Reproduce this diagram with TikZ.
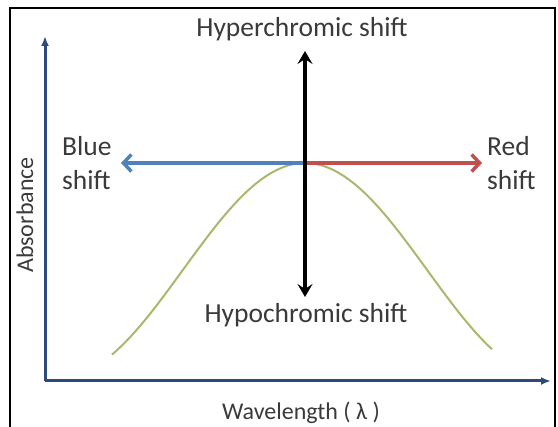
\documentclass[tikz,border=0pt]{standalone}
\usepackage{fontspec}
\setmainfont{Carlito}
\usetikzlibrary{arrows.meta}
\definecolor{axisnavy}{HTML}{2C4A7C}
\definecolor{blueshift}{HTML}{4F81BD}
\definecolor{redshift}{HTML}{C0504D}
\definecolor{curvegreen}{HTML}{A9B86C}
\definecolor{labelgray}{HTML}{3A3A3A}

\begin{document}
\begin{tikzpicture}[x=1pt, y=-1pt, every node/.style={font=\fontsize{27.5}{34}\selectfont, text=labelgray, inner sep=0pt},
	axislbl/.style={font=\fontsize{24}{28}\selectfont},
	axis/.style={draw=axisnavy, line width=3pt, -{Latex[length=10pt, width=8pt]}},
	shiftarr/.style={line width=3.5pt, -{Straight Barb[length=8pt, width=17pt]}},
	vert/.style={black, line width=3.5pt, -{Stealth[length=13pt, width=15pt, inset=5pt]}}]
	\useasboundingbox (0,0) rectangle (558,427);
	\draw[line width=1.5pt] (10,427) |- (555,8) -- (555,427);
	% axes
	\coordinate (o) at (45,381);
	\coordinate (ytop) at (45,36);
	\coordinate (xend) at (551,381);
	\draw[axis] (o) -- (ytop);
	\draw[axis] (o) -- (xend);
	\node[axislbl, rotate=90] (absorb) at (25,215) {Absorbance};
	\node[axislbl, anchor=base] (wave) at (301,420) {Wavelength ( λ )};
	% absorption band
	\draw[curvegreen, line width=2pt] plot[domain=112:492, samples=80, smooth] (\x, {163+107*(1-cos(0.7368*(\x-305)))});
	% shifts
	\coordinate (peak) at (305,163);
	\coordinate (blueend) at (121,163);
	\coordinate (redend) at (482,163);
	\coordinate (up) at (305,51);
	\coordinate (down) at (305,297);
	\draw[shiftarr, blueshift] (peak) -- (blueend);
	\draw[shiftarr, redshift] (peak) -- (redend);
	\draw[vert] (peak) -- (up);
	\draw[vert] (peak) -- (down);
	\node[anchor=base] (hyper) at (302,37) {Hyperchromic shift};
	\node[anchor=base] (hypo) at (306,323) {Hypochromic shift};
	\node[align=left, anchor=west] (bluelbl) at (62,163) {Blue\\shift};
	\node[align=left, anchor=west] (redlbl) at (487,163) {Red\\shift};
\end{tikzpicture}
\end{document}
